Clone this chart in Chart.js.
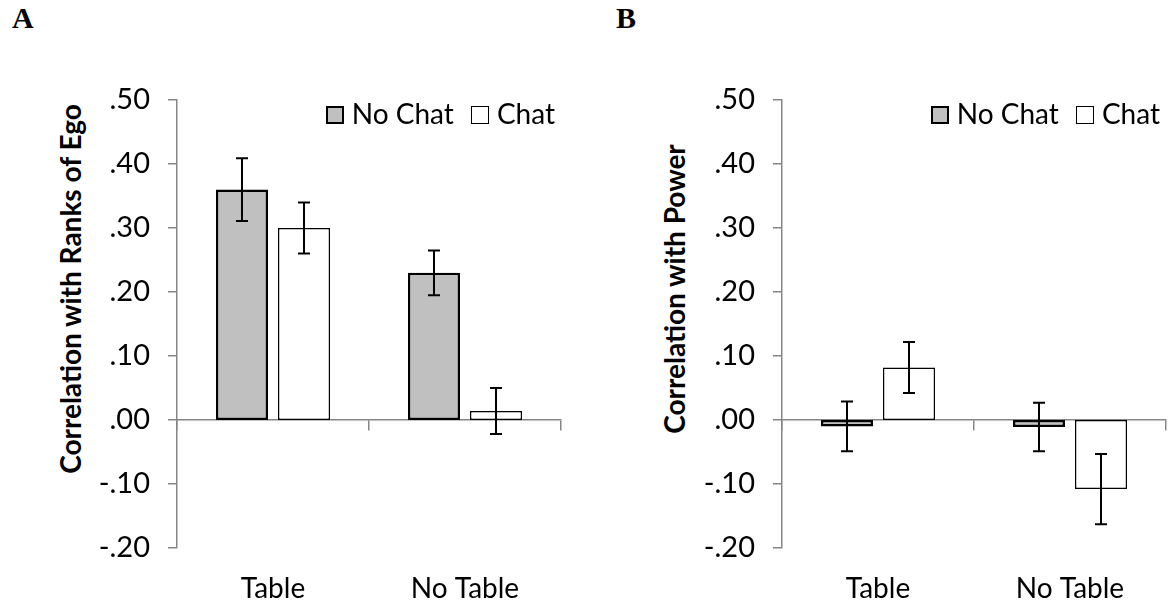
<!DOCTYPE html>
<html>
<head>
<meta charset="utf-8">
<title>Correlation with Ranks of Ego / Power</title>
<script src="https://cdn.jsdelivr.net/npm/chart.js@4.4.1/dist/chart.umd.min.js"></script>
<style>
  html, body { margin: 0; padding: 0; background: #fff; }
  body { width: 1169px; height: 607px; position: relative; overflow: hidden; font-family: Lato, sans-serif; }
  .letter { position: absolute; top: 3px; font: bold 30px/30px "Liberation Serif", serif; color: #000; }
  .ytitle { position: absolute; font-weight: bold; font-size: 28px; line-height: 1; white-space: nowrap; color: #000;
            transform: translate(-50%, -50%) rotate(-90deg); }
  .panel { position: absolute; top: 0; height: 607px; }
  .legend { position: absolute; display: flex; align-items: center; font-size: 28px; line-height: 28px; color: #000; white-space: nowrap; }
  .legend .item { display: flex; align-items: center; margin-left: 17px; }
  .legend .swatch { display: inline-block; width: 18px; height: 18px; box-sizing: border-box; margin-right: 8px; position: relative; top: 2px; }
</style>
</head>
<body>
<div class="letter" style="left:12px">A</div>
<div class="letter" style="left:616px">B</div>

<div class="ytitle" style="left:70px; top:289px">Correlation with Ranks of Ego</div>
<div class="ytitle" style="left:674px; top:289px">Correlation with Power</div>

<div class="panel" id="panelA" style="left:0; width:585px"><canvas id="chartA" width="585" height="607"></canvas></div>
<div class="panel" id="panelB" style="left:585px; width:584px"><canvas id="chartB" width="584" height="607"></canvas></div>

<script>
// categories and series
const categories = ['Table', 'No Table'];
const seriesNames = ['No Chat', 'Chat'];
const yMin = -0.2;
const yMax = 0.5;
const yStep = 0.1;

// panel A: correlation with ranks of ego
const egoNoChat = [0.36, 0.23];
const egoChat = [0.30, 0.014];
const egoNoChatErr = [0.049, 0.035];
const egoChatErr = [0.040, 0.036];

// panel B: correlation with power
const powerNoChat = [-0.010, -0.011];
const powerChat = [0.082, -0.108];
const powerNoChatErr = [0.039, 0.038];
const powerChatErr = [0.040, 0.055];

const AXIS_GREY = '#868686';
const FONT = 'Lato, "Open Sans", sans-serif';

// draws the error bars on top of the bars, using the y scale
const errorBars = {
  id: 'errorBars',
  afterDatasetsDraw(chart) {
    const ctx = chart.ctx;
    const y = chart.scales.y;
    ctx.save();
    ctx.strokeStyle = '#000';
    ctx.lineWidth = 2;
    chart.data.datasets.forEach((ds, i) => {
      const meta = chart.getDatasetMeta(i);
      meta.data.forEach((bar, j) => {
        const v = ds.data[j];
        const e = ds.errors[j];
        const top = y.getPixelForValue(v + e);
        const bot = y.getPixelForValue(v - e);
        const x = bar.x;
        ctx.beginPath();
        ctx.moveTo(x, top);
        ctx.lineTo(x, bot);
        ctx.moveTo(x - 6, top);
        ctx.lineTo(x + 6, top);
        ctx.moveTo(x - 6, bot);
        ctx.lineTo(x + 6, bot);
        ctx.stroke();
      });
    });
    ctx.restore();
  }
};

// .50 / .00 / -.10 style labels
function fmtTick(v) {
  if (Math.abs(v) < 1e-9) v = 0;
  return v.toFixed(2).replace(/^(-?)0\./, '$1.');
}

// html legend inside the top right of the plot area
function addLegend(chart, panelId) {
  const items = Chart.defaults.plugins.legend.labels.generateLabels(chart);
  const wrap = document.createElement('div');
  wrap.className = 'legend';
  wrap.style.top = (chart.chartArea.top - 1) + 'px';
  wrap.style.right = (chart.width - chart.chartArea.right + 6) + 'px';
  items.forEach(it => {
    const item = document.createElement('span');
    item.className = 'item';
    const sw = document.createElement('span');
    sw.className = 'swatch';
    sw.style.background = it.fillStyle;
    sw.style.border = it.lineWidth + 'px solid ' + it.strokeStyle;
    item.appendChild(sw);
    item.appendChild(document.createTextNode(it.text));
    wrap.appendChild(item);
  });
  document.getElementById(panelId).appendChild(wrap);
}

function makeChart(id, noChat, chat, noChatErr, chatErr, yWidth, padRight) {
  return new Chart(document.getElementById(id), {
    type: 'bar',
    data: {
      labels: categories,
      datasets: [
        {
          label: seriesNames[0],
          data: noChat,
          errors: noChatErr,
          backgroundColor: '#c0c0c0',
          borderColor: '#000',
          borderWidth: 2.5,
          borderSkipped: false,
          barPercentage: 0.84,
          categoryPercentage: 0.646
        },
        {
          label: seriesNames[1],
          data: chat,
          errors: chatErr,
          backgroundColor: '#fff',
          borderColor: '#000',
          borderWidth: 1.5,
          borderSkipped: false,
          barPercentage: 0.84,
          categoryPercentage: 0.646
        }
      ]
    },
    options: {
      responsive: false,
      animation: false,
      layout: { padding: { top: 100, right: padRight, bottom: 0, left: 0 } },
      plugins: {
        tooltip: { enabled: false },
        legend: { display: false }
      },
      scales: {
        x: {
          position: 'bottom',
          grid: { display: false, drawTicks: false },
          border: { display: false },
          ticks: { color: '#000', font: { family: FONT, size: 28 }, padding: 24 },
          afterFit: s => { s.height = 59; }
        },
        // zero line with tick marks at the category boundaries
        x0: {
          type: 'category',
          position: { y: 0 },
          offset: true,
          grid: { offset: true, drawOnChartArea: false, drawTicks: true, tickLength: 10, color: AXIS_GREY, lineWidth: 1.5 },
          border: { color: AXIS_GREY, width: 1.5 },
          ticks: { display: false }
        },
        y: {
          min: yMin,
          max: yMax,
          ticks: {
            stepSize: yStep,
            color: '#000',
            font: { family: FONT, size: 29 },
            padding: 18,
            callback: v => fmtTick(v)
          },
          grid: { drawOnChartArea: false, drawTicks: true, tickLength: 9, color: AXIS_GREY, lineWidth: 1.5 },
          border: { color: AXIS_GREY, width: 1.5 },
          afterFit: s => { s.width = yWidth; }
        }
      }
    },
    plugins: [errorBars]
  });
}

const chartA = makeChart('chartA', egoNoChat, egoChat, egoNoChatErr, egoChatErr, 177, 24);
const chartB = makeChart('chartB', powerNoChat, powerChat, powerNoChatErr, powerChatErr, 197, 3);
addLegend(chartA, 'panelA');
addLegend(chartB, 'panelB');
</script>
</body>
</html>
